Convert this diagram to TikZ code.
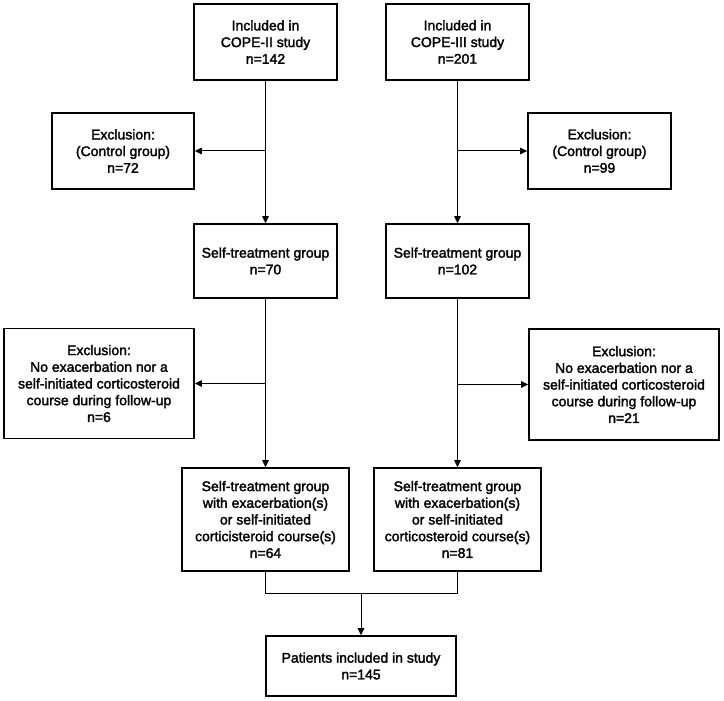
\documentclass[tikz,border=0pt]{standalone}
\usepackage{fontspec}
\setmainfont[FakeBold=2]{Liberation Sans}
\usetikzlibrary{arrows.meta}
\begin{document}
\begin{tikzpicture}[x=1pt,y=-1pt,
  box/.style={draw=black,line width=1.6pt,fill=white,align=center,inner sep=2pt,
    font=\fontsize{14}{16.7}\selectfont,anchor=center},
  conn/.style={draw=black,line width=1pt},
  arr/.style={conn,-{Triangle[length=7pt,width=6.5pt]}}]
\path[fill=white] (0,0) rectangle (724,701);
\useasboundingbox (0,0) rectangle (724,701);
% nodes
\node[box,minimum width=143pt,minimum height=76pt] (cope2) at (265.5,42) {Included in\\COPE-II study\\n=142};
\node[box,minimum width=143pt,minimum height=76pt] (cope3) at (457.5,42) {Included in\\COPE-III study\\n=201};
\node[box,minimum width=142pt,minimum height=76pt] (ex1l) at (123,151) {Exclusion:\\(Control group)\\n=72};
\node[box,minimum width=143pt,minimum height=76pt] (ex1r) at (599.5,151) {Exclusion:\\(Control group)\\n=99};
\node[box,minimum width=143pt,minimum height=74pt] (stl) at (265.5,261) {Self-treatment group\\n=70};
\node[box,minimum width=143pt,minimum height=74pt] (str) at (457.5,261) {Self-treatment group\\n=102};
\node[box,minimum width=190pt,minimum height=110pt] (ex2l) at (99,383.5) {Exclusion:\\No exacerbation nor a\\self-initiated corticosteroid\\course during follow-up\\n=6};
\node[box,minimum width=190pt,minimum height=111pt] (ex2r) at (624,384.5) {Exclusion:\\No exacerbation nor a\\self-initiated corticosteroid\\course during follow-up\\n=21};
\node[box,minimum width=167pt,minimum height=103pt] (fl) at (265.5,519.5) {Self-treatment group\\with exacerbation(s)\\or self-initiated\\corticisteroid course(s)\\n=64};
\node[box,minimum width=167pt,minimum height=103pt] (fr) at (457.5,519.5) {Self-treatment group\\with exacerbation(s)\\or self-initiated\\corticosteroid course(s)\\n=81};
\node[box,minimum width=190pt,minimum height=60pt] (pt) at (361,666) {Patients included in study\\n=145};
% coordinates
\coordinate (b1l) at (cope2.south |- ex1l.east);
\coordinate (b1r) at (cope3.south |- ex1r.west);
\coordinate (b2l) at (stl.south |- ex2l.east);
\coordinate (b2r) at (str.south |- ex2r.west);
\coordinate (ml) at (fl.south |- 0,593);
\coordinate (mr) at (fr.south |- 0,593);
\coordinate (mc) at (pt.north |- 0,593);
% connectors
\draw[arr] (cope2.south) -- (stl.north);
\draw[arr] (cope3.south) -- (str.north);
\draw[arr] (b1l) -- (ex1l.east);
\draw[arr] (b1r) -- (ex1r.west);
\draw[arr] (stl.south) -- (fl.north);
\draw[arr] (str.south) -- (fr.north);
\draw[arr] (b2l) -- (ex2l.east);
\draw[arr] (b2r) -- (ex2r.west);
\draw[conn] (fl.south) -- (ml) -- (mr) -- (fr.south);
\draw[arr] (mc) -- (pt.north);
\end{tikzpicture}
\end{document}
